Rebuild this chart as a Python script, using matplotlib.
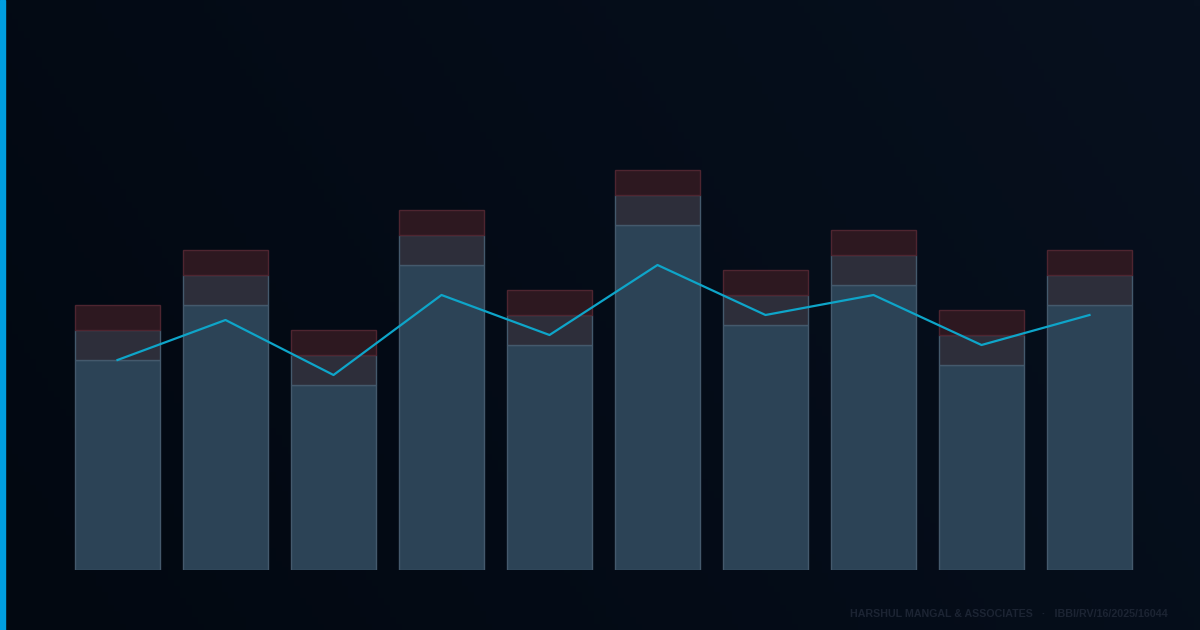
import numpy as np
import matplotlib.pyplot as plt

# data
categories = list(range(10))
base = [42, 53, 37, 61, 45, 69, 49, 57, 41, 53]
middle = [6, 6, 6, 6, 6, 6, 6, 6, 6, 6]
top = [5, 5, 5, 5, 5, 5, 5, 5, 5, 5]
trend = [42, 50, 39, 55, 47, 61, 51, 55, 45, 51]

fig = plt.figure(figsize=(12, 6.3), dpi=100)

# background gradient
bg = fig.add_axes([0, 0, 1, 1])
gx = np.linspace(0, 1, 200)
gy = np.linspace(0, 1, 100)
X, Y = np.meshgrid(gx, gy)
t = np.clip(0.75 * X + 0.25 * (1 - Y), 0, 1)
c0 = np.array([2, 8, 17]) / 255
c1 = np.array([7, 16, 30]) / 255
img = c0[None, None, :] * (1 - t[..., None]) + c1[None, None, :] * t[..., None]
bg.imshow(img, aspect='auto', extent=[0, 1, 0, 1], origin='upper')
bg.set_xlim(0, 1)
bg.set_ylim(0, 1)
bg.axis('off')
# left accent stripe
bg.axvspan(0, 5 / 1200, color='#009ee0')

ax = fig.add_axes([63.5 / 1200, 60 / 630, 1080 / 1200, 500 / 630])
ax.patch.set_alpha(0)
x = np.array(categories)
w = 85 / 108

ax.bar(x, base, width=w, color='#2c4356', edgecolor='#44596c', linewidth=1)
ax.bar(x, middle, bottom=base, width=w, color='#2d2e3a', edgecolor='#44596c', linewidth=1)
ax.bar(x, top, bottom=np.array(base) + np.array(middle), width=w,
       color='#2d1820', edgecolor='#4e2530', linewidth=1)
ax.plot(x, trend, color='#0ea5c9', linewidth=1.6)

ax.set_xlim(-0.5, 9.5)
ax.set_ylim(0, 100)
ax.axis('off')

fig.text(1168 / 1200, 1 - 614 / 630, "HARSHUL MANGAL & ASSOCIATES   ·   IBBI/RV/16/2025/16044",
         ha='right', va='center', fontsize=7.7, fontweight='bold',
         family=['Liberation Sans', 'DejaVu Sans'], color='#1c2433')

fig.savefig("out.png", dpi=100)
